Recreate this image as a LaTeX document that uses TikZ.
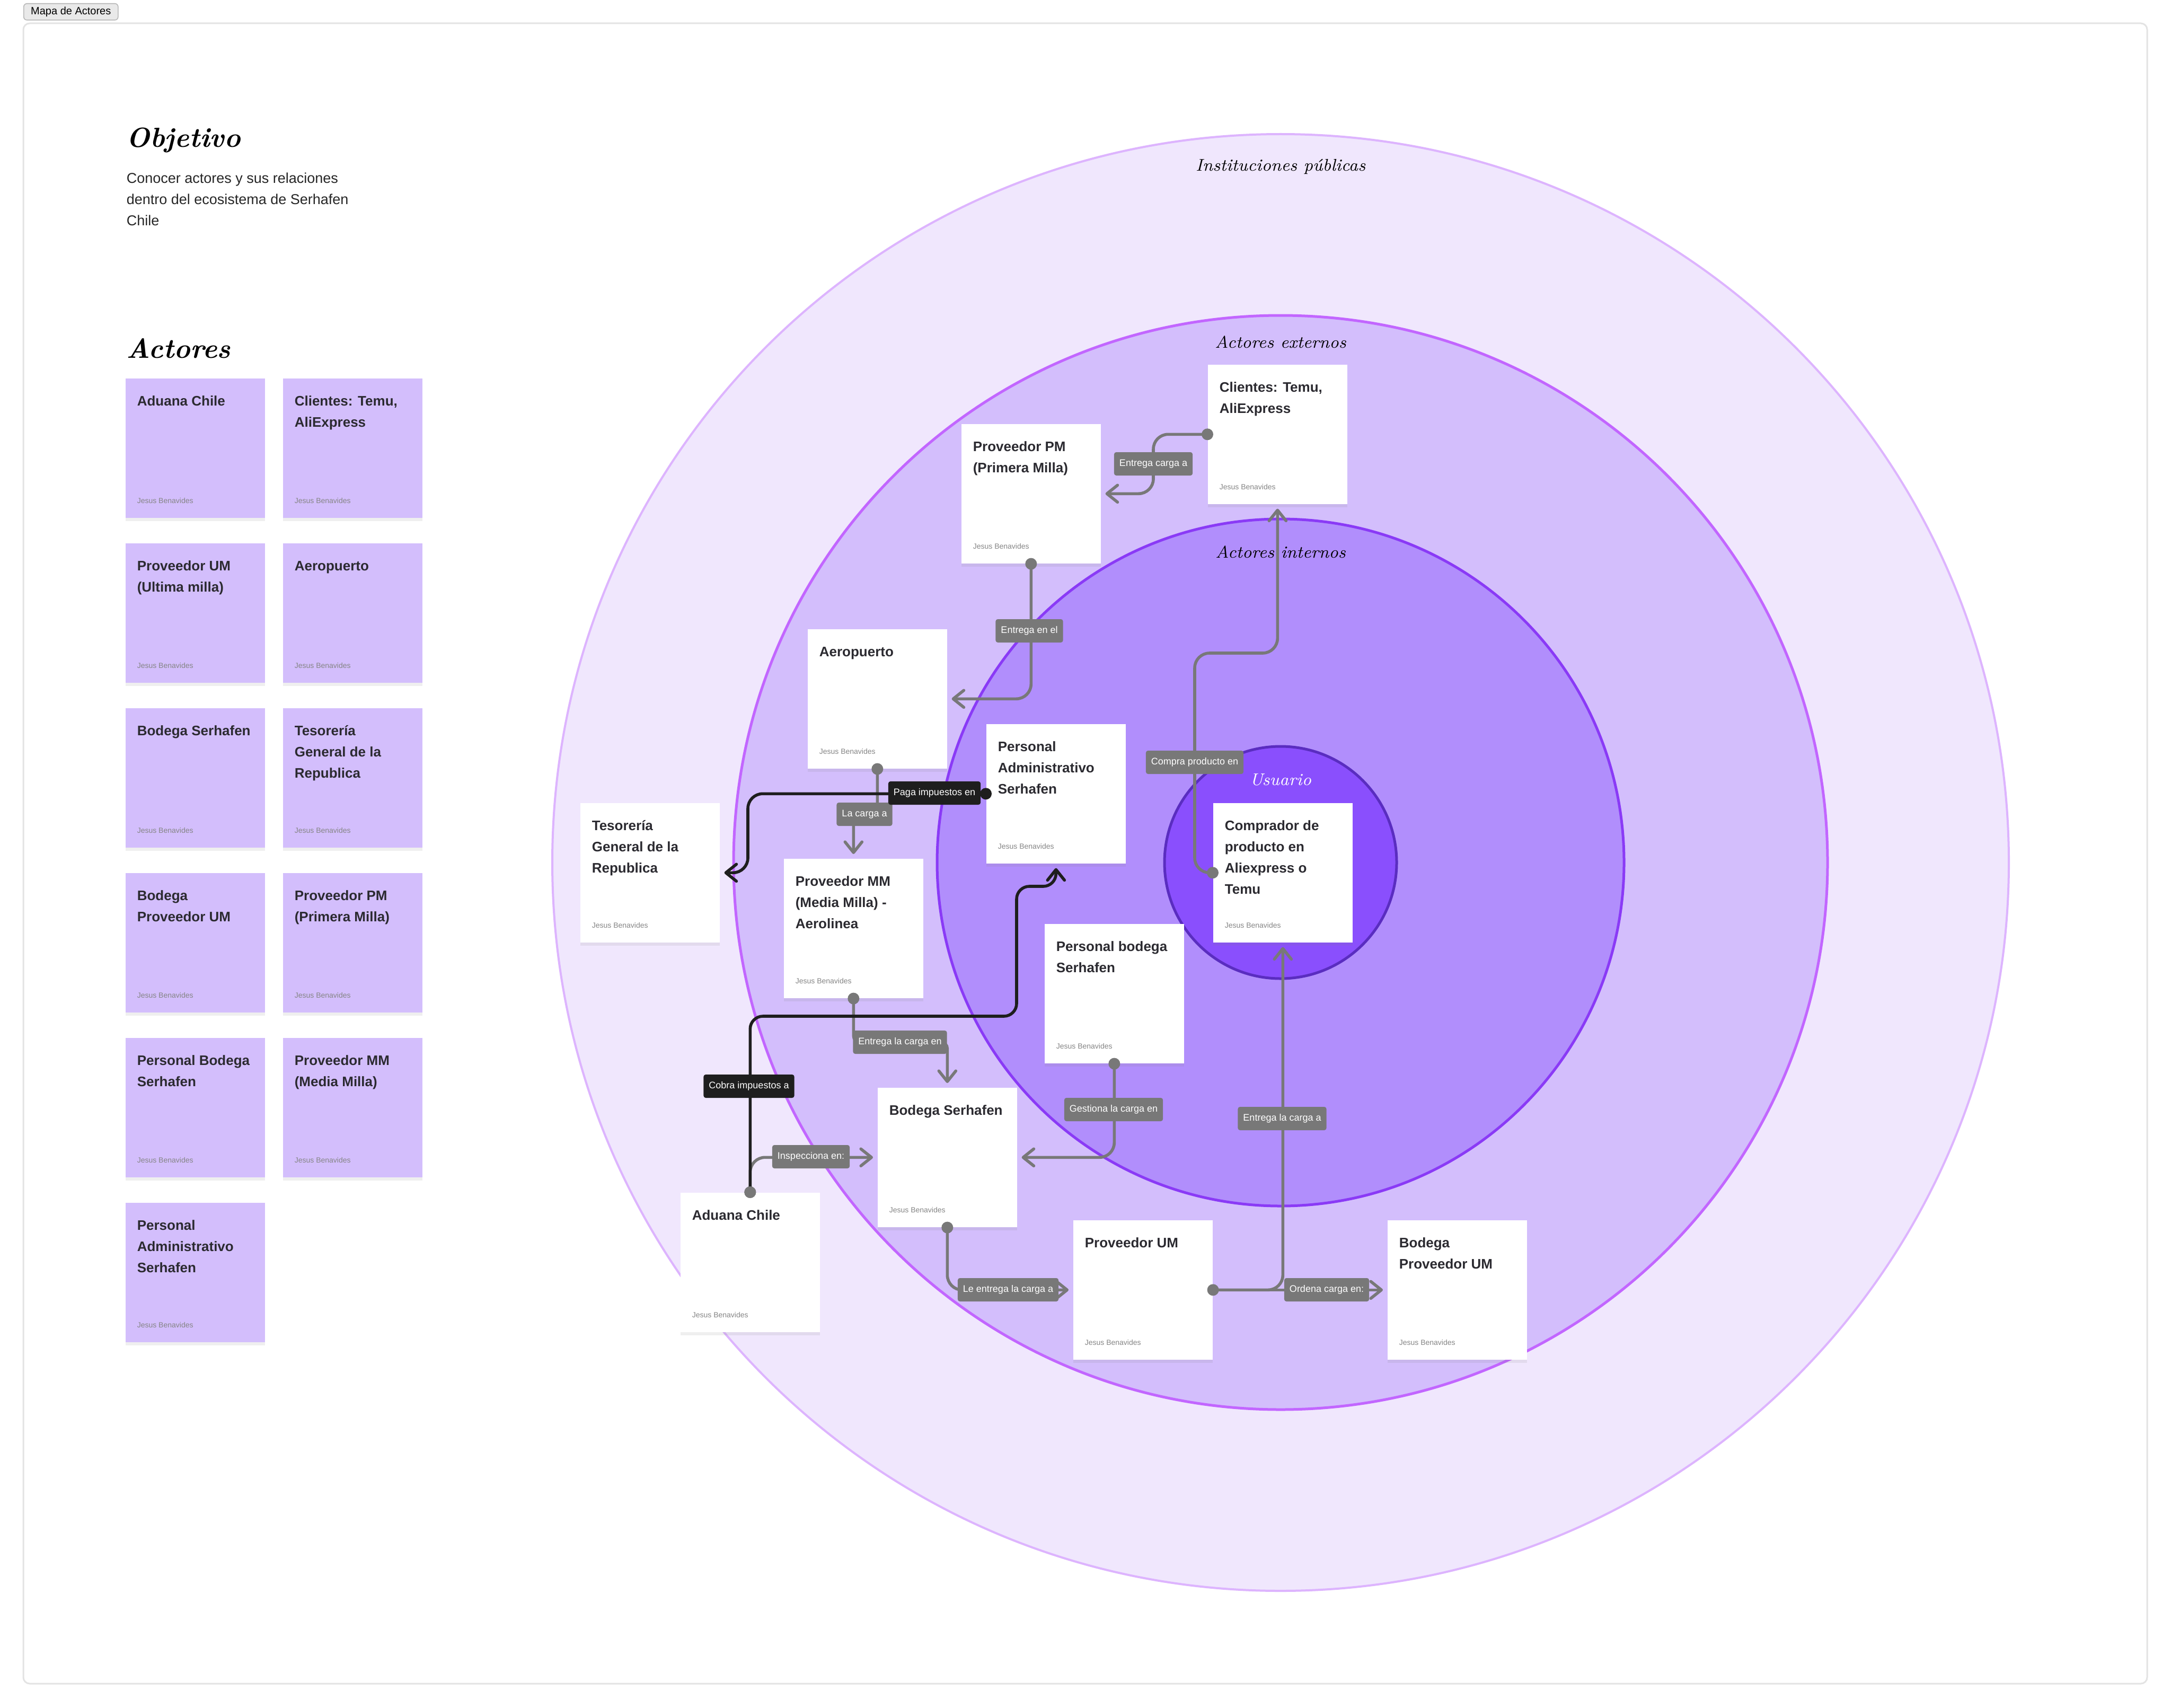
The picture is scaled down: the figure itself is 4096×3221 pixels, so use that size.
\documentclass[tikz,border=0pt]{standalone}
\usepackage{fontspec}
\newfontfamily\sansf{Liberation Sans}
\newcommand\handf{\rmfamily\itshape}
\usetikzlibrary{arrows.meta,calc,shadows}

\definecolor{frameC}{HTML}{E3E3E3}
\definecolor{tabF}{HTML}{E9E9E9}
\definecolor{tabD}{HTML}{B8B8B8}
\definecolor{outerF}{HTML}{F0E7FD}
\definecolor{outerD}{HTML}{DDB4FE}
\definecolor{extF}{HTML}{D3BEFC}
\definecolor{extD}{HTML}{C266FF}
\definecolor{intF}{HTML}{B18EFC}
\definecolor{intD}{HTML}{8A3AF6}
\definecolor{usrF}{HTML}{8A4FFD}
\definecolor{usrD}{HTML}{5A2DC0}
\definecolor{noteF}{HTML}{D3BEFC}
\definecolor{connC}{HTML}{787878}
\definecolor{blkC}{HTML}{1E1E1E}
\definecolor{ttlC}{HTML}{2B2A30}
\definecolor{authC}{HTML}{858585}

\tikzset{
  cardbox/.style={rectangle, fill=white, minimum width=65.75pt, minimum height=65.75pt,
    inner sep=0pt, anchor=north west,
    drop shadow={opacity=0.12, shadow xshift=0pt, shadow yshift=-1.5pt}},
  notebox/.style={cardbox, fill=noteF},
  ttl/.style={anchor=base west, inner sep=0pt,
    font=\sansf\bfseries\fontsize{6.5pt}{10pt}\selectfont, text=ttlC},
  auth/.style={anchor=base west, inner sep=0pt,
    font=\sansf\fontsize{3.5pt}{4pt}\selectfont, text=authC},
  lbl/.style={fill=connC, text=white, rounded corners=1pt, inner xsep=2.5pt, inner ysep=0pt,
    minimum height=11pt, font=\sansf\fontsize{4.5pt}{5pt}\selectfont},
  lblk/.style={lbl, fill=blkC},
  conn/.style={draw=connC, line width=1.4pt, rounded corners=7pt,
    -{Straight Barb[length=5pt,width=8pt,round]}, shorten >=2pt},
  connk/.style={conn, draw=blkC},
  hand/.style={inner sep=0pt, anchor=base, font=\handf\fontsize{8pt}{10pt}\selectfont},
  bighand/.style={anchor=base west, inner sep=0pt, font=\handf\bfseries\fontsize{13pt}{15pt}\selectfont},
}

\newcommand\crd[5]{%
  \node[#1] (#2) at (#3,#4) {};
  \node[ttl] (#2t) at ($(#2.north west)+(22,52)$) {\parbox[t]{64pt}{\raggedright #5}};
  \node[auth] (#2a) at ($(#2.north west)+(22,236)$) {Jesus Benavides};}

\begin{document}
\begin{tikzpicture}[x=0.25pt,y=-0.25pt]
\useasboundingbox (0,0) rectangle (4096,3221);
\fill[white] (0,0) rectangle (4096,3221);

% frame and tab
\draw[frameC, line width=0.75pt, rounded corners=3pt] (44,44) rectangle (4051,3176);
\node[draw=tabD, fill=tabF, rounded corners=1.5pt, line width=0.4pt, minimum width=44.5pt,
  minimum height=7.75pt, inner sep=0pt, anchor=north west,
  font=\sansf\fontsize{5pt}{6pt}\selectfont] (tab) at (44,6) {Mapa de Actores};

% objective
\node[bighand] (objt) at (238,278) {Objetivo};
\node[anchor=base west, inner sep=0pt, font=\sansf\fontsize{6.75pt}{10pt}\selectfont, text=black!85] (objb) at (238,346)
  {\parbox[t]{130pt}{Conocer actores y sus relaciones\\dentro del ecosistema de Serhafen\\Chile}};
\node[bighand] (actt) at (238,675) {Actores};

% left sticky notes
\crd{notebox}{n1}{236}{713}{Aduana Chile}
\crd{notebox}{n2}{533}{713}{Clientes: Temu,\\AliExpress}
\crd{notebox}{n3}{236}{1024}{Proveedor UM\\(Ultima milla)}
\crd{notebox}{n4}{533}{1024}{Aeropuerto}
\crd{notebox}{n5}{236}{1335}{Bodega Serhafen}
\crd{notebox}{n6}{533}{1335}{Tesorería\\General de la\\Republica}
\crd{notebox}{n7}{236}{1646}{Bodega\\Proveedor UM}
\crd{notebox}{n8}{533}{1646}{Proveedor PM\\(Primera Milla)}
\crd{notebox}{n9}{236}{1957}{Personal Bodega\\Serhafen}
\crd{notebox}{n10}{533}{1957}{Proveedor MM\\(Media Milla)}
\crd{notebox}{n11}{236}{2268}{Personal\\Administrativo\\Serhafen}

% circles
\coordinate (ctr) at (2416,1627);
\draw[fill=outerF, draw=outerD, line width=1pt] (ctr) circle[radius=343.5pt];
\draw[fill=extF, draw=extD, line width=1.25pt] (ctr) circle[radius=258pt];
\draw[fill=intF, draw=intD, line width=1.25pt] (ctr) circle[radius=162pt];
\draw[fill=usrF, draw=usrD, line width=1.25pt] (ctr) circle[radius=54.75pt];
\node[hand] (cl1) at (2416,323) {Instituciones públicas};
\node[hand] (cl2) at (2416,656) {Actores externos};
\node[hand] (cl3) at (2416,1052) {Actores internos};
\node[hand, text=white] (cl4) at (2416,1481) {Usuario};

% cards
\crd{cardbox}{clientes}{2278}{687}{Clientes: Temu,\\AliExpress}
\crd{cardbox}{ppm}{1813}{799}{Proveedor PM\\(Primera Milla)}
\crd{cardbox}{aero}{1523}{1186}{Aeropuerto}
\crd{cardbox}{padm}{1860}{1365}{Personal\\Administrativo\\Serhafen}
\crd{cardbox}{tgr}{1094}{1514}{Tesorería\\General de la\\Republica}
\crd{cardbox}{pmm}{1478}{1619}{Proveedor MM\\(Media Milla) -\\Aerolinea}
\crd{cardbox}{comp}{2288}{1514}{Comprador de\\producto en\\Aliexpress o\\Temu}
\crd{cardbox}{pbod}{1970}{1742}{Personal bodega\\Serhafen}
\crd{cardbox}{bodega}{1655}{2051}{Bodega Serhafen}
\crd{cardbox}{aduana}{1283}{2249}{Aduana Chile}
\crd{cardbox}{pum}{2024}{2301}{Proveedor UM}
\crd{cardbox}{bpum}{2617}{2301}{Bodega\\Proveedor UM}

% gray connectors
\draw[conn] (clientes.west) -- (clientes.west -| 2176,0) -- (ppm.east -| 2176,0) -- (ppm.east);
\draw[conn] (ppm.south) -- (ppm.south |- aero.east) -- (aero.east);
\draw[conn, rounded corners=3pt] (aero.south) -- (aero.south |- 0,1536) -- (pmm.north |- 0,1536) -- (pmm.north);
\draw[conn] (aduana.north) -- (aduana.north |- bodega.west) -- (bodega.west);
\draw[conn, rounded corners=3pt] (pmm.south) -- (pmm.south |- 0,1966) -- (bodega.north |- 0,1966) -- (bodega.north);
\draw[conn] (pbod.south) -- (pbod.south |- bodega.east) -- (bodega.east);
\draw[conn] (bodega.south) -- (bodega.south |- pum.west) -- (pum.west);
\draw[conn] (pum.east) -- (bpum.west);
\draw[conn] (pum.east) -- (pum.east -| comp.south) -- (comp.south);
\draw[conn] (comp.west) -- (comp.west -| 2254,0) -- (2254,1232) -- (clientes.south |- 0,1232) -- (clientes.south);

\foreach \p in {clientes.west, ppm.south, aero.south, aduana.north, pmm.south, pbod.south, bodega.south, pum.east, comp.west}
  \fill[connC] (\p) circle[radius=2.75pt];

\node[lbl] (l1) at (2176,875) {Entrega carga a};
\node[lbl] (l2) at (1942,1190) {Entrega en el};
\node[lbl] (l3) at (1631,1536) {La carga a};
\node[lbl] (l6) at (1530,2182) {Inspecciona en:};
\node[lbl] (l7) at (1698,1966) {Entrega la carga en};
\node[lbl] (l8) at (2101,2093) {Gestiona la carga en};
\node[lbl] (l9) at (1902,2433) {Le entrega la carga a};
\node[lbl] (l10) at (2503,2433) {Ordena carga en:};
\node[lbl] (l11) at (2419,2110) {Entrega la carga a};
\node[lbl] (l12) at (2254,1438) {Compra producto en};

% black connectors
\draw[connk] (padm.west) -- (padm.west -| 1411,0) -- (tgr.east -| 1411,0) -- (tgr.east);
\draw[connk, rounded corners=6pt] (aduana.north) -- (aduana.north |- 0,1917) -- (1918,1917) -- (1918,1672) -- (padm.south |- 0,1672) -- (padm.south);
\fill[blkC] (padm.west) circle[radius=2.75pt];
\fill[connC] (aduana.north) circle[radius=2.75pt];
\node[lblk] (l4) at (1763,1496) {Paga impuestos en};
\node[lblk] (l5) at (1413,2049) {Cobra impuestos a};
\end{tikzpicture}
\end{document}
